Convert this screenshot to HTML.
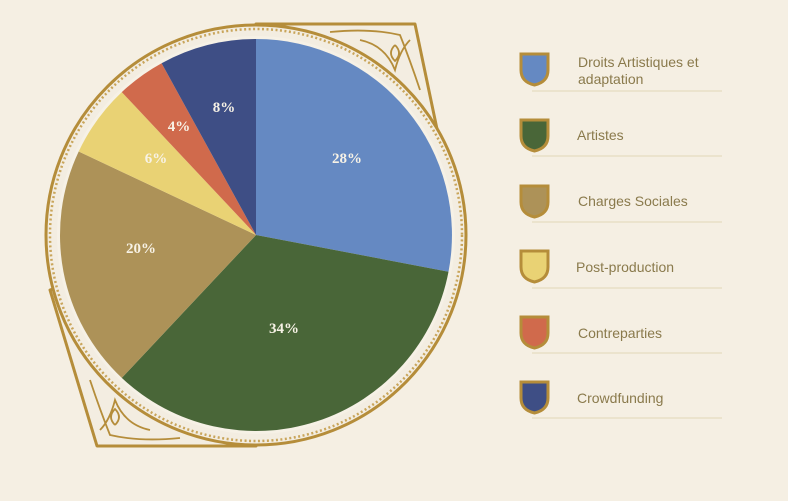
<!DOCTYPE html>
<html><head><meta charset="utf-8"><style>
html,body{margin:0;padding:0;background:#f5efe3;}
svg{display:block}
.l{font-family:"Liberation Sans",sans-serif;font-size:14px;fill:#8a7a4c;}
.p{font-family:"Liberation Serif",serif;font-size:15px;font-weight:bold;fill:#f7f2e6;text-anchor:middle;}
</style></head><body>
<svg width="788" height="501" viewBox="0 0 788 501" xmlns="http://www.w3.org/2000/svg">
<rect width="788" height="501" fill="#f5efe3"/>
<!-- frame corners -->
<path d="M256,24 L415,24 L455,215 L256,235 Z" fill="#f3ede1" stroke="#b58d3a" stroke-width="3" stroke-linejoin="round"/>
<path d="M256,446 L97,446 L50,290 L256,235 Z" fill="#f3ede1" stroke="#b58d3a" stroke-width="3" stroke-linejoin="round"/>
<g fill="none" stroke="#b58d3a" stroke-width="1.8">
<path d="M330,32 Q370,28 400,35 Q410,60 420,90 M360,40 Q385,45 395,70 Q400,50 410,40 M395,45 q8,8 0,16 q-8,-8 0,-16"/>
<path d="M180,438 Q140,442 110,435 Q100,410 90,380 M150,430 Q125,425 115,400 Q110,420 100,430 M115,425 q-8,-8 0,-16 q8,8 0,16"/>
</g>
<circle cx="256" cy="235" r="210" fill="#f3ede1" stroke="#b58d3a" stroke-width="3"/>
<circle cx="256" cy="235" r="206" fill="none" stroke="#c9a55a" stroke-width="2.5" stroke-dasharray="2 2.5"/>
<circle cx="256" cy="235" r="199" fill="#f6f1e6"/>
<!-- slices -->
<path d="M256,235 L256,39 A196,196 0 0 1 448.5,271.7 Z" fill="#6589c2"/>
<path d="M256,235 L448.5,271.7 A196,196 0 0 1 121.8,377.9 Z" fill="#496638"/>
<path d="M256,235 L121.8,377.9 A196,196 0 0 1 78.7,151.5 Z" fill="#ad9258"/>
<path d="M256,235 L78.7,151.5 A196,196 0 0 1 121.8,92.1 Z" fill="#e9d274"/>
<path d="M256,235 L121.8,92.1 A196,196 0 0 1 161.6,63.2 Z" fill="#d06a4c"/>
<path d="M256,235 L161.6,63.2 A196,196 0 0 1 256,39 Z" fill="#3e4e85"/>
<text class="p" x="347" y="163">28%</text>
<text class="p" x="284" y="333">34%</text>
<text class="p" x="141" y="253">20%</text>
<text class="p" x="156" y="163">6%</text>
<text class="p" x="179" y="131">4%</text>
<text class="p" x="224" y="112">8%</text>
<!-- legend -->
<defs><path id="sh" d="M0,0 H27 V16 Q27,28 13.5,31 Q0,28 0,16 Z"/></defs>
<g stroke="#b58d3a" stroke-width="3">
<use href="#sh" x="521" y="54" fill="#6589c2"/>
<use href="#sh" x="521" y="120" fill="#496638"/>
<use href="#sh" x="521" y="186" fill="#ad9258"/>
<use href="#sh" x="521" y="251" fill="#e9d274"/>
<use href="#sh" x="521" y="317" fill="#d06a4c"/>
<use href="#sh" x="521" y="382" fill="#3e4e85"/>
</g>
<g stroke="#e8dfc6" stroke-width="1.5">
<line x1="532" y1="91" x2="722" y2="91"/>
<line x1="532" y1="156" x2="722" y2="156"/>
<line x1="532" y1="222" x2="722" y2="222"/>
<line x1="532" y1="288" x2="722" y2="288"/>
<line x1="532" y1="353" x2="722" y2="353"/>
<line x1="532" y1="418" x2="722" y2="418"/>
</g>
<text class="l" x="578" y="67">Droits Artistiques et</text>
<text class="l" x="578" y="84">adaptation</text>
<text class="l" x="577" y="140">Artistes</text>
<text class="l" x="578" y="206">Charges Sociales</text>
<text class="l" x="576" y="272">Post-production</text>
<text class="l" x="578" y="338">Contreparties</text>
<text class="l" x="577" y="403">Crowdfunding</text>
</svg>
</body></html>
